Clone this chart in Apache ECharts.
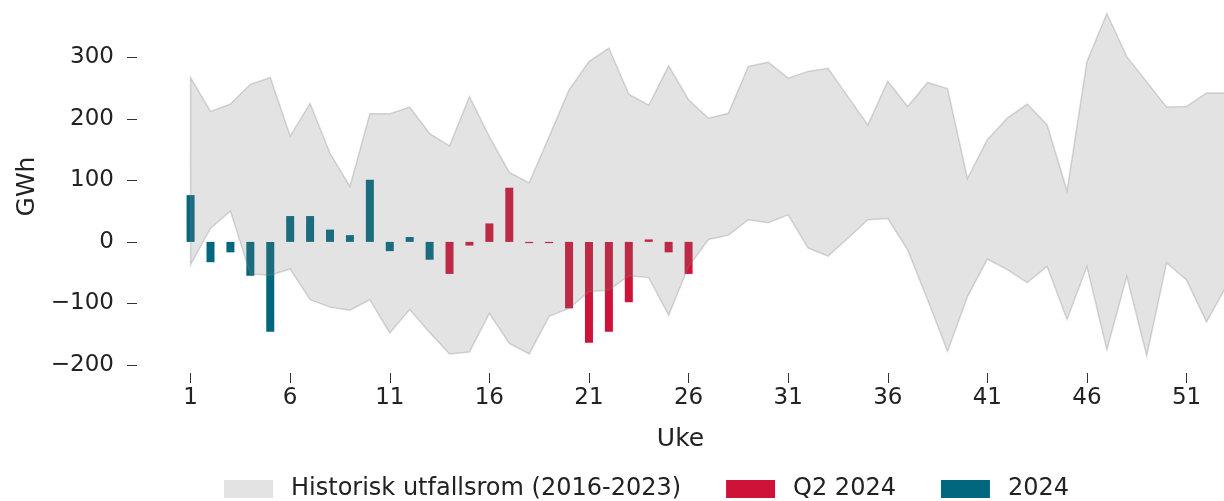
<!DOCTYPE html>
<html>
<head>
<meta charset="utf-8">
<script src="https://cdn.jsdelivr.net/npm/echarts@6/dist/echarts.min.js"></script>
<style>
html,body{margin:0;padding:0;background:#fff;}
#chart{width:1224px;height:501px;}
</style>
</head>
<body>
<div id="chart"></div>
<script>
const weeks = Array.from({length:53},(_, i)=>i+1);
const bandUpper = [267,212,224,256,267,172,225,144,90,208,208,219,176,156,236,171,113,96,171,247,293,315,240,222,286,231,201,209,285,292,266,277,282,236,190,261,220,259,249,103,166,201,224,190,83,293,371,301,260,219,220,242,242];
const bandLower = [-37,22,50,-52,-54,-44,-94,-106,-111,-94,-148,-110,-147,-182,-179,-116,-165,-182,-121,-108,-81,-78,-55,-58,-119,-40,4,11,36,31,44,-10,-23,6,36,38,-13,-94,-178,-89,-28,-45,-66,-40,-126,-40,-175,-56,-185,-34,-62,-130,-72];
const weeks2024 = [1,2,3,4,5,6,7,8,9,10,11,12,13];
const values2024 = [76,-33,-17,-55,-146,42,42,20,11,101,-15,8,-29];
const weeksQ2 = [14,15,16,17,18,19,20,21,22,23,24,25,26];
const valuesQ2 = [-52,-6,30,88,-2,-2,-108,-164,-146,-98,4,-17,-52];
const xTicks = [1,6,11,16,21,26,31,36,41,46,51];
const yTicks = [-200,-100,0,100,200,300];
const names = {band:'Historisk utfallsrom (2016-2023)', q2:'Q2 2024', y:'2024'};

const FONT = 'DejaVu Sans';
const TXT = '#222';
const chart = echarts.init(document.getElementById('chart'), null, {renderer:'canvas'});
const bandFill = 'rgba(128,128,128,0.22)';
const bandEdge = 'rgba(128,128,128,0.3)';

// band table: [week, upper, lower]
const bandData = weeks.map((w,i)=>[w,bandUpper[i],bandLower[i]]);

chart.setOption({
  animation:false,
  backgroundColor:'#fff',
  textStyle:{fontFamily:FONT},
  grid:{left:137,right:0,top:0,bottom:128,containLabel:false},
  xAxis:{
    type:'value', min:-1.69, max:52.88,
    name:'Uke', nameLocation:'middle', nameGap:54,
    nameTextStyle:{fontFamily:FONT,fontSize:25,color:TXT},
    axisLine:{show:false,onZero:false},
    splitLine:{show:false},
    axisTick:{show:true,length:10,customValues:xTicks,lineStyle:{color:'#333',width:1}},
    axisLabel:{customValues:xTicks,fontFamily:FONT,fontSize:23,color:TXT,margin:14}
  },
  yAxis:{
    type:'value', min:-213, max:393,
    name:'GWh', nameLocation:'middle', nameGap:97, nameRotate:90,
    nameTextStyle:{fontFamily:FONT,fontSize:25,color:TXT},
    axisLine:{show:false,onZero:false},
    splitLine:{show:false},
    axisTick:{show:true,length:10,customValues:yTicks,lineStyle:{color:'#333',width:1}},
    axisLabel:{customValues:yTicks,fontFamily:FONT,fontSize:23,color:TXT,margin:23,
      formatter:v=> v<0 ? '\u2212'+Math.abs(v) : String(v)}
  },
  legend:{
    top:472, left:219, itemWidth:49, itemHeight:18, itemGap:45,
    textStyle:{fontFamily:FONT,fontSize:24,color:TXT,padding:[0,0,0,13]},
    data:[
      {name:names.band, icon:'rect', itemStyle:{color:'#e3e3e3',borderWidth:0}},
      {name:names.q2, icon:'rect', itemStyle:{color:'#cf1237'}},
      {name:names.y, icon:'rect', itemStyle:{color:'#00677f'}}
    ],
    selectedMode:false
  },
  series:[
    {
      name:names.q2, type:'bar', barWidth:8, barGap:'-100%', z:2,
      itemStyle:{color:'#cf1237'},
      data:weeksQ2.map((w,i)=>[w,valuesQ2[i]])
    },
    {
      name:names.y, type:'bar', barWidth:8, barGap:'-100%', z:2,
      itemStyle:{color:'#00677f'},
      data:weeks2024.map((w,i)=>[w,values2024[i]])
    },
    {
      name:names.band, type:'custom', z:3, silent:true,
      itemStyle:{color:'#e3e3e3'},
      encode:{x:0,y:[1,2]},
      data:[bandData[0]],
      clip:true,
      renderItem:function(params, api){
        const up = bandData.map(d=>api.coord([d[0],d[1]]));
        const lo = bandData.map(d=>api.coord([d[0],d[2]])).reverse();
        const cs = params.coordSys;
        return {
          type:'group',
          children:[{
            type:'polygon',
            shape:{points:up.concat(lo)},
            style:{fill:bandFill,stroke:bandEdge,lineWidth:1.5},
            clipPath:{type:'rect',shape:{x:cs.x,y:cs.y,width:cs.width,height:cs.height}}
          }]
        };
      }
    }
  ]
});
</script>
</body>
</html>
